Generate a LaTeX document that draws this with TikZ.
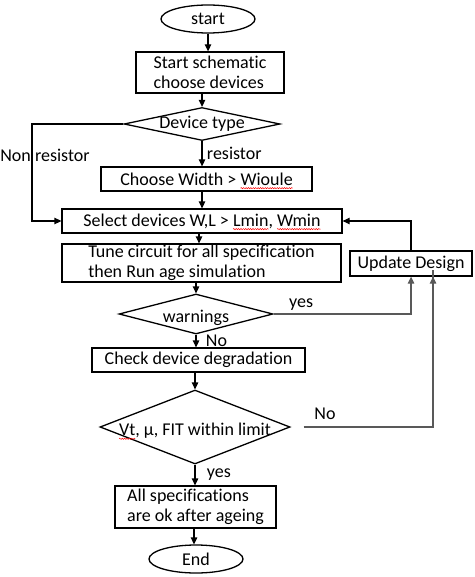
\documentclass[tikz,border=0pt]{standalone}
\usepackage{fontspec}
\setmainfont{Carlito}[Ligatures=NoCommon]
\usetikzlibrary{shapes.geometric,arrows.meta,decorations.pathmorphing}

% red spell-check wave under a word
\newlength{\spellw}
\newcommand{\spellmark}[1]{\settowidth{\spellw}{#1}\rlap{\tikz[overlay]\draw[red, line width=0.5pt,
    decorate, decoration={snake, amplitude=0.6pt, segment length=2.4pt}] (0pt,-3pt) -- (\spellw,-3pt);}#1}

\tikzset{
  stepbox/.style={draw, rectangle, line width=1.3pt, inner sep=0pt, align=left},
  terminal/.style={draw, ellipse, line width=1.3pt, inner sep=0pt, minimum width=94pt, minimum height=28pt},
  decision/.style={draw, diamond, line width=1.3pt, inner sep=0pt},
  arr/.style={-{Triangle[length=7pt,width=6.5pt]}, line width=1.3pt},
  grayarr/.style={arr, draw=black!65},
}

\begin{document}
\begin{tikzpicture}[x=1pt, y=-1pt, font=\fontsize{18}{19.5}\selectfont]
  \useasboundingbox (0,0) rectangle (474,577);

  \node (start) [terminal, text depth=-4pt] at (208,19) {start};
  \node (schem) [stepbox, minimum width=148pt, minimum height=41pt] at (210,72.5) {Start schematic\\choose devices};
  \node (dtype) [decision, minimum width=156pt, minimum height=33pt, label=center:{Device type}] at (202,124) {};
  \node (width) [stepbox, minimum width=211pt, minimum height=24pt] at (206.5,179) {Choose Width > \spellmark{Wioule}};
  \node (select) [stepbox, minimum width=280pt, minimum height=24pt] at (202,221) {Select devices W,L > \spellmark{Lmin}, \spellmark{Wmin}};
  \node (tune) [stepbox, minimum width=279pt, minimum height=38pt] at (201.5,263) {Tune circuit for all specification\\then Run age simulation\hspace*{14pt}};
  \node (warn) [decision, minimum width=154pt, minimum height=40pt, label={[yshift=-4pt]center:warnings}] at (196,314) {};
  \node (check) [stepbox, minimum width=213pt, minimum height=24pt] at (198.5,360) {Check device degradation};
  \node (limit) [decision, minimum width=190pt, minimum height=74pt, label={[yshift=-4pt]center:{\spellmark{Vt}, μ, FIT within limit}}] at (195,427) {};
  \node (ok) [stepbox, minimum width=161pt, minimum height=42pt] at (195.5,507) {All specifications\\are ok after ageing};
  \node (end) [terminal] at (196,559) {End};
  \node (update) [stepbox, minimum width=122pt, minimum height=25pt] at (411,263.5) {Update Design};

  \coordinate (nonres) at (32,124);
  \coordinate (noturn) at (433,427);

  \draw[arr] (start.south -| start) -- (start.south |- schem.north);
  \draw[arr] (schem.south -| dtype) -- (dtype.north);
  \draw[arr] (dtype.south) -- (dtype.south |- width.north) node[midway, right, xshift=1pt] {resistor};
  \draw[arr] (width.south -| select) -- (select.north);
  \draw[arr] (select.south -| 199,0) -- (tune.north -| 199,0);
  \draw[arr] (tune.south -| warn) -- (warn.north);
  \draw[arr] (warn.south) -- (warn.south |- check.north) node[midway, right, xshift=6pt] {No};
  \draw[arr] (check.south -| limit) -- (limit.north);
  \draw[arr] (limit.south) -- (limit.south |- ok.north) node[midway, right, xshift=8pt] {yes};
  \draw[arr] (ok.south -| 194,0) -- (end.north -| 194,0);

  \draw[arr] (dtype.west) -- (nonres) |- (select.west);
  \node (nonlabel) at (45,155) {Non resistor};
  \draw[arr] (update.north) |- (select.east);
  \draw[grayarr] (warn.east) -| (update.south) node[pos=0.1, above, black] {yes};
  \draw[grayarr, shorten <=13pt] (limit.east) -| (noturn) |- (update.south -| noturn);
  \node (nolabel) at (325,414) {No};
\end{tikzpicture}
\end{document}
